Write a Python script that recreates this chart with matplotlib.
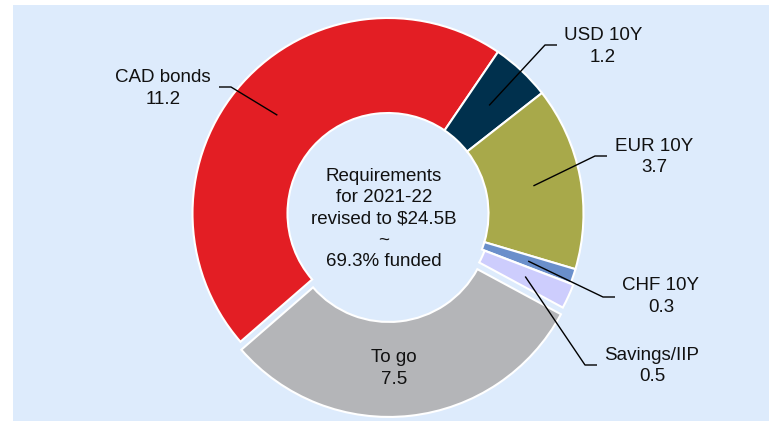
import numpy as np
import matplotlib
matplotlib.use("Agg")
import matplotlib.pyplot as plt
from matplotlib.patches import Rectangle

plt.rcParams["font.family"] = ["Liberation Sans", "DejaVu Sans"]

# funding sources, $B
labels = ["CAD bonds", "USD 10Y", "EUR 10Y", "CHF 10Y", "Savings/IIP", "To go"]
values = [11.2, 1.2, 3.7, 0.3, 0.5, 7.5]
colors = ["#E31E24", "#00304D", "#A8A94A", "#6A8FCB", "#CDCDFD", "#B4B5B8"]
center_text = "Requirements\nfor 2021-22\nrevised to $24.5B\n~\n69.3% funded"

W, H = 769, 421
BG = "#DDEBFC"

fig = plt.figure(figsize=(W / 100, H / 100), dpi=100)
fig.set_facecolor("white")
ax = fig.add_axes([0, 0, 1, 1])

# layout in pixels measured from the top-left corner
cx, cy = 388, 213.5
R, ring = 195.5, 95
explode = [0, 0, 0, 0, 3, 8]

# label centre, then leader: point next to the text and elbow
label_pos = {
    "CAD bonds": ((163, 88.5), (219, 87), (231, 87)),
    "USD 10Y": ((603, 46.5), (557, 45), (545, 45)),
    "EUR 10Y": ((654, 157), (607, 156), (595, 156)),
    "CHF 10Y": ((661, 296.5), (615, 297), (603, 297)),
    "Savings/IIP": ((652, 366), (597, 365), (585, 365)),
    "To go": ((394, 368.5), None, None),
}


def fy(y):
    return H - y


ax.add_patch(Rectangle((13, 0), W - 13, H - 5, facecolor=BG, edgecolor="none", zorder=0))

wedges, _ = ax.pie(
    values,
    colors=colors,
    startangle=221,
    counterclock=False,
    radius=R,
    center=(cx, fy(cy)),
    explode=explode,
    frame=True,
    wedgeprops=dict(width=ring, edgecolor="white", linewidth=1.5),
)

for w, name, val in zip(wedges, labels, values):
    (tx, ty), p1, p2 = label_pos[name]
    ax.text(tx, fy(ty), f"{name}\n{val}", ha="center", va="center",
            fontsize=13.5, linespacing=1.32, color="#111111", zorder=5)
    if p1 is None:
        continue
    mid = np.deg2rad((w.theta1 + w.theta2) / 2)
    rm = w.r - w.width / 2
    tip = (w.center[0] + rm * np.cos(mid), w.center[1] + rm * np.sin(mid))
    ax.plot([p1[0], p2[0], tip[0]], [fy(p1[1]), fy(p2[1]), tip[1]],
            color="black", lw=1.0, zorder=4, solid_capstyle="butt")

ax.text(384, fy(219), center_text, ha="center", va="center",
        fontsize=13.5, linespacing=1.32, color="#111111")

ax.set_xlim(0, W)
ax.set_ylim(0, H)
ax.set_aspect("equal")
ax.axis("off")

fig.savefig("out.png", dpi=100, facecolor=fig.get_facecolor())
